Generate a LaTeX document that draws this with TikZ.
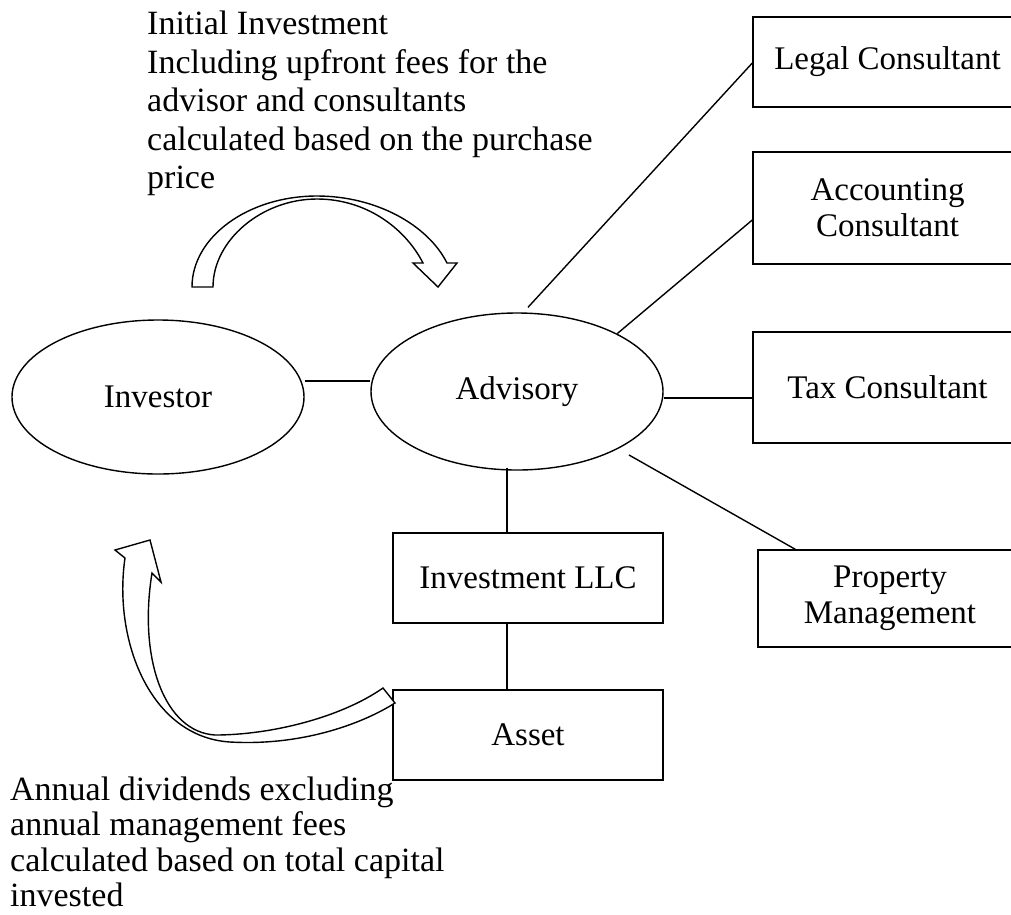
\documentclass[tikz,border=0pt]{standalone}
\usepackage{fontspec}
\setmainfont{Liberation Serif}
\usetikzlibrary{shapes.geometric,calc}
\tikzset{
  txt/.style={inner sep=0pt},
  boxnode/.style={draw, rectangle, line width=1.4pt, inner sep=0pt, align=center, font=\fontsize{33}{36}\selectfont},
  ovalnode/.style={draw, ellipse, line width=1.4pt, inner sep=0pt, font=\fontsize{33}{36}\selectfont},
  thinlink/.style={line width=1.4pt},
  thicklink/.style={line width=2.8pt},
  blockarrow/.style={draw, line width=1.4pt, fill=white, line join=miter}
}
\begin{document}
\begin{tikzpicture}[x=1pt,y=-1pt]
\useasboundingbox (0,0) rectangle (1011,914);
\fill[white] (0,0) rectangle (1011,914);

% ellipses
\node[ovalnode, minimum width=292pt, minimum height=154pt] (inv) at (158,397) {Investor};
\node[ovalnode, minimum width=292pt, minimum height=157pt] (adv) at (517,391.5) {Advisory};

% boxes
\node[boxnode, minimum width=269pt, minimum height=90pt] (legal) at (887.5,62) {Legal Consultant};
\node[boxnode, minimum width=269pt, minimum height=112pt] (acc) at (887.5,208) {Accounting\\Consultant};
\node[boxnode, minimum width=269pt, minimum height=111pt] (tax) at (887.5,387.5) {Tax Consultant};
\node[boxnode, minimum width=264pt, minimum height=97pt] (prop) at (890,598.5) {Property\\Management};
\node[boxnode, minimum width=270pt, minimum height=90pt] (llc) at (528,578) {Investment LLC};
\node[boxnode, minimum width=270pt, minimum height=90pt] (asset) at (528,735) {Asset};

% connectors
\draw[thinlink, line width=2pt] ($(inv.east)+(0,-16)$) -- ($(adv.west)+(0,-10.5)$);
\draw[thinlink] ($(adv.north)+(11,-5)$) -- ($(legal.west)+(0,1)$);
\draw[thinlink] (adv.30) -- ($(acc.west)+(0,12)$);
\draw[thicklink] ($(adv.east)+(0,6.5)$) -- ($(tax.west)+(0,10.5)$);
\draw[thinlink] ($(adv.center)+(112,63.5)$) -- ($(prop.north west)+(38,0)$);
\draw[thicklink] ($(adv.south)+(-10,-3)$) -- ($(llc.north)+(-21,0)$);
\draw[thicklink] ($(llc.south)+(-21,0)$) -- ($(asset.north)+(-21,0)$);

% top curved arrow
\draw[blockarrow] (192,287) .. controls (192,237) and (248,196) .. (317,196)
  .. controls (376,196) and (428,225) .. (447,263)
  -- (457,263) -- (438,287) -- (413,263) -- (423,263)
  .. controls (405,228) and (366,199) .. (317,199)
  .. controls (262,199) and (213,240) .. (213,287) -- cycle;

% bottom curved arrow
\draw[blockarrow] (152,573) -- (161,582) -- (150,540) -- (115,550) -- (125,558)
  .. controls (113,640) and (150,737) .. (230,742)
  .. controls (300,746) and (360,725) .. (395,703)
  -- (383,688)
  .. controls (340,718) and (270,735) .. (215,735)
  .. controls (165,732) and (138,660) .. (152,573) -- cycle;

% annotation texts
\node[txt, anchor=north west, align=left, font=\fontsize{34}{38.5}\selectfont] (toptext) at (147,10.8)
  {Initial Investment\\Including upfront fees for the\\advisor and consultants\\calculated based on the purchase\\price};
\node[txt, anchor=north west, align=left, font=\fontsize{34}{35.3}\selectfont] (bottext) at (10,776.8)
  {Annual dividends excluding\\annual management fees\\calculated based on total capital\\invested};
\end{tikzpicture}
\end{document}
